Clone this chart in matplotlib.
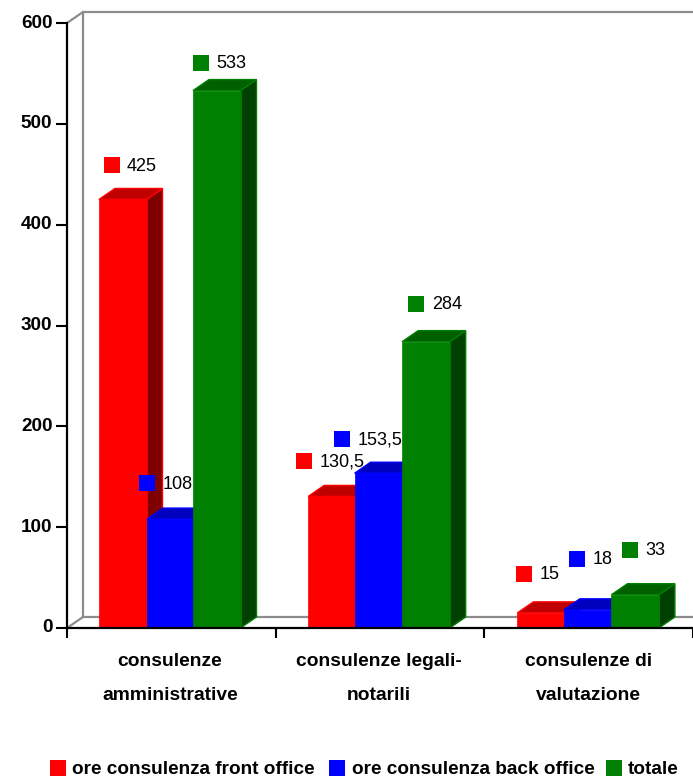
import matplotlib
matplotlib.use("Agg")
import matplotlib.pyplot as plt
from matplotlib.patches import Rectangle
from matplotlib.transforms import ScaledTranslation

plt.rcParams['font.family'] = ['Liberation Sans', 'DejaVu Sans']

categories = ["consulenze\namministrative", "consulenze legali-\nnotarili", "consulenze di\nvalutazione"]
series_names = ["ore consulenza front office", "ore consulenza back office", "totale"]
front_office = [425, 130.5, 15]
back_office = [108, 153.5, 18]
totale = [533, 284, 33]
value_labels = [["425", "130,5", "15"], ["108", "153,5", "18"], ["533", "284", "33"]]
yticks = [0, 100, 200, 300, 400, 500, 600]

W, H = 693, 778
colors = ["#ff0000", "#0000ff", "#008000"]
top_colors = ["#bf0000", "#0000bf", "#006000"]
side_colors = ["#7f0000", "#00007f", "#004000"]

# axes box in pixels: y=0 at 628, y=600 at 23
x0, x1, ybot, ytop = 67, 692.5, 628, 23
px_x = 3 / (x1 - x0)
px_y = 600 / (ybot - ytop)

fig = plt.figure(figsize=(W / 100, H / 100), dpi=100)
ax = fig.add_axes([x0 / W, 1 - ybot / H, (x1 - x0) / W, (ybot - ytop) / H])
ax.set_xlim(0, 3)
ax.set_ylim(0, 600)
ax.patch.set_visible(False)
for s in ["top", "right"]:
    ax.spines[s].set_visible(False)
for s in ["left", "bottom"]:
    ax.spines[s].set_linewidth(1.6)
    ax.spines[s].set_zorder(20)

ax.set_yticks(yticks)
ax.set_xticks([0, 1, 2, 3])
ax.set_xticklabels([])
ax.tick_params(axis="y", length=8, width=1.5, pad=2.5, labelsize=13.6)
ax.tick_params(axis="x", length=7.5, width=1.5)
# the y labels sit a little above their ticks
up = ScaledTranslation(0, 2 / 100, fig.dpi_scale_trans)
for lab in ax.get_yticklabels():
    lab.set_fontweight("bold")
    lab.set_transform(lab.get_transform() + up)

dx = 16 * px_x
dy = 11 * px_y

# back wall
wall = "#8c8c8c"
ax.plot([0, dx, dx, 3.01], [0, dy, 600 + dy, 600 + dy], color=wall, lw=1.6, clip_on=False, zorder=1)
ax.plot([0, dx], [600, 600 + dy], color=wall, lw=1.6, clip_on=False, zorder=1)
ax.plot([dx, 3.01], [dy, dy], color=wall, lw=1.6, clip_on=False, zorder=1)

bar_w = 47.5 * px_x
group_step = 209.2 * px_x
starts = [32 * px_x, 78.4 * px_x, 126 * px_x]
# per label nudges: marker offset from the bar's left edge, height above the bar top (pixels)
nudge_x = [[4.5, -12.5, -1.5], [-8, -20.7, 5.3], [0.3, 6.3, 10.3]]
lift = [[34, 35, 39], [36, 34, 51], [28, 38, 45]]
bar_shift = [[0, 0, 0], [1.7, 0, 0], [0, 0, 0]]

for s, vals in enumerate([front_office, back_office, totale]):
    z = 2 + s
    for g, v in enumerate(vals):
        left = g * group_step + starts[s] + bar_shift[s][g] * px_x
        right = left + bar_w
        ax.fill([right, right + dx, right + dx, right], [0, dy, v + dy, v],
                fc=side_colors[s], ec=colors[s], lw=1, clip_on=False, zorder=z)
        ax.fill([left, left + dx, right + dx, right], [v, v + dy, v + dy, v],
                fc=top_colors[s], ec=colors[s], lw=1, clip_on=False, zorder=z)
        ax.fill([left, right, right, left], [0, 0, v, v],
                fc=colors[s], ec=colors[s], lw=0.5, clip_on=False, zorder=z)

# value labels with a small square beside each
for s, vals in enumerate([front_office, back_office, totale]):
    for g, v in enumerate(vals):
        left = g * group_step + starts[s] + (bar_shift[s][g] + nudge_x[s][g]) * px_x
        mid = v + lift[s][g] * px_y
        ax.add_patch(Rectangle((left, mid - 8 * px_y), 16 * px_x, 16 * px_y, fc=colors[s], ec="none",
                               clip_on=False, zorder=10))
        ax.text(left + 23.5 * px_x, mid - 1 * px_y, value_labels[s][g], fontsize=13, va="center", ha="left",
                clip_on=False, zorder=11)

# category labels
for g, c in enumerate(categories):
    line1, line2 = c.split("\n")
    xc = (103 + g * 209.3) * px_x
    ax.text(xc, -33.5 * px_y, line1, fontsize=13.9, fontweight="bold", ha="center", va="center", clip_on=False)
    ax.text(xc, -67 * px_y, line2, fontsize=13.9, fontweight="bold", ha="center", va="center", clip_on=False)

# legend along the bottom
leg_sq = [50, 329, 606]
leg_txt = [72.5, 352, 628]
for name, c, xp, xt in zip(series_names, colors, leg_sq, leg_txt):
    fig.add_artist(Rectangle((xp / W, 1 - 775.5 / H), 16 / W, 16 / H, fc=c, ec="none", transform=fig.transFigure))
    fig.text(xt / W, 1 - 769 / H, name, fontsize=13.7, fontweight="bold", ha="left", va="center")

fig.savefig("out.png", dpi=100)
